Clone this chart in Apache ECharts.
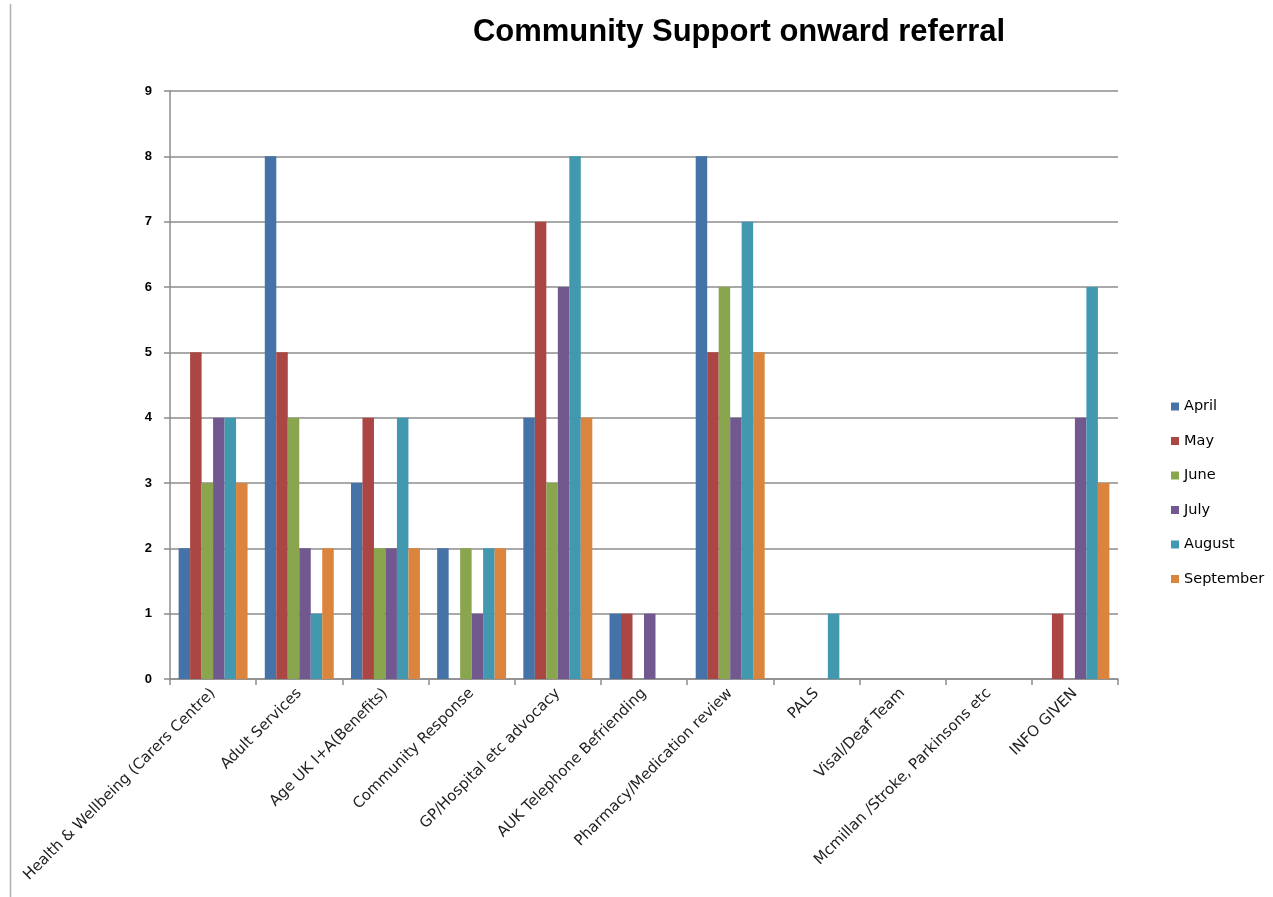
<!DOCTYPE html>
<html>
<head>
<meta charset="utf-8">
<script src="https://cdn.jsdelivr.net/npm/echarts@6/dist/echarts.min.js"></script>
<style>
html,body{margin:0;padding:0;background:#fff;}
#chart{width:1273px;height:897px;}
</style>
</head>
<body>
<div id="chart"></div>
<script>
const categories = [
  "Health & Wellbeing (Carers Centre)",
  "Adult Services",
  "Age UK I+A(Benefits)",
  "Community Response",
  "GP/Hospital etc advocacy",
  "AUK Telephone Befriending",
  "Pharmacy/Medication review",
  "PALS",
  "Visal/Deaf Team",
  "Mcmillan /Stroke, Parkinsons etc",
  "INFO GIVEN"
];
const april     = [2, 8, 3, 2, 4, 1, 8, 0, 0, 0, 0];
const may       = [5, 5, 4, 0, 7, 1, 5, 0, 0, 0, 1];
const june      = [3, 4, 2, 2, 3, 0, 6, 0, 0, 0, 0];
const july      = [4, 2, 2, 1, 6, 1, 4, 0, 0, 0, 4];
const august    = [4, 1, 4, 2, 8, 0, 7, 1, 0, 0, 6];
const september = [3, 2, 2, 2, 4, 0, 5, 0, 0, 0, 3];
const seriesNames = ["April", "May", "June", "July", "August", "September"];
const seriesData = [april, may, june, july, august, september];
const colors = ["#4572A7", "#AA4643", "#89A54E", "#71588F", "#4198AF", "#DB843D"];

const chart = echarts.init(document.getElementById('chart'));
const option = {
  animation: false,
  color: colors,
  title: {
    text: "Community Support onward referral",
    left: 734, top: 12, textAlign: 'center',
    textStyle: {fontFamily: 'Liberation Sans, Arial', fontSize: 31, fontWeight: 'bold', color: '#000'}
  },
  graphic: [{
    type: 'line', shape: {x1: 10.5, y1: 4, x2: 10.5, y2: 897},
    style: {stroke: '#b0b0b0', lineWidth: 1.5}
  }],
  legend: {
    orient: 'vertical', left: 1166, top: 394, itemGap: 19.5,
    itemWidth: 8, itemHeight: 8, icon: 'rect',
    textStyle: {fontFamily: 'DejaVu Sans, Arial', fontSize: 14.5, color: '#000'}
  },
  grid: {left: 170, right: 155, top: 91, bottom: 218, containLabel: false},
  xAxis: {
    type: 'category', data: categories,
    axisLine: {lineStyle: {color: '#8c8c8c', width: 1.5}},
    axisTick: {show: true, alignWithLabel: false, length: 6, lineStyle: {color: '#8c8c8c', width: 1.5}},
    axisLabel: {rotate: 45, interval: 0, margin: 12, fontFamily: 'DejaVu Sans, Arial', fontSize: 15, color: '#222'}
  },
  yAxis: {
    type: 'value', min: 0, max: 9, interval: 1,
    axisLine: {show: true, lineStyle: {color: '#8c8c8c', width: 1.5}},
    axisTick: {show: true, inside: false, length: 6, lineStyle: {color: '#8c8c8c', width: 1.5}},
    axisLabel: {margin: 18, fontFamily: 'Liberation Sans, Arial', fontSize: 13, fontWeight: 'bold', color: '#000'},
    splitLine: {lineStyle: {color: '#8c8c8c', width: 1.5}}
  },
  series: seriesNames.map((n, i) => ({
    name: n, type: 'bar', data: seriesData[i],
    barGap: '0%', barCategoryGap: '20%'
  }))
};
chart.setOption(option);
</script>
</body>
</html>
